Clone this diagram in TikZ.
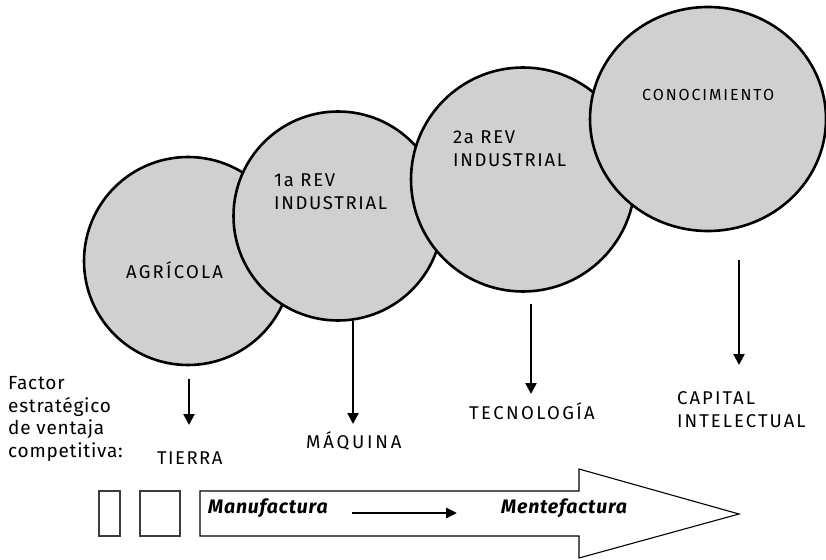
\documentclass[tikz,border=0pt]{standalone}
\usepackage{fontspec}
\setmainfont[LetterSpace=4,Ligatures=NoCommon]{Fira Sans}
\newfontfamily\capsfont[Ligatures=NoCommon]{Fira Sans}
\usetikzlibrary{arrows.meta,shapes.geometric}
\definecolor{circfill}{RGB}{208,208,208}
\definecolor{boxline}{RGB}{60,60,60}
\begin{document}
\begin{tikzpicture}[x=1pt,y=-1pt,
  era/.style={draw=black, line width=2.6pt, fill=circfill, inner sep=0pt},
  caps/.style={anchor=base west, inner sep=0pt, align=left,
    font=\capsfont\addfontfeature{LetterSpace=#1}\fontsize{18.5}{23}\selectfont},
  caps/.default=8,
  plain/.style={anchor=base west, inner sep=0pt, align=left,
    font=\fontsize{19}{22.5}\selectfont},
  work/.style={anchor=base west, inner sep=0pt,
    font=\bfseries\itshape\fontsize{19.5}{22}\selectfont},
  arr/.style={line width=2.3pt, -{Triangle[length=11pt,width=11pt]}},
  smallbox/.style={draw=boxline, line width=1.2pt, fill=white}
]
\useasboundingbox (0,0) rectangle (826,559);

% eras (drawn left to right, each over the previous)
\node[era, circle, minimum size=208pt] (c1) at (188,261) {};
\node[era, circle, minimum size=209pt] (c2) at (338,216) {};
\node[era, circle, minimum size=224pt] (c3) at (523,179.5) {};
\node[era, ellipse, minimum width=236pt, minimum height=224pt] (c4) at (708,119) {};

\node[caps=12] (t1) at (126,278) {AGRÍCOLA};
\node[caps=9] (t2) at (274,209) {1a REV\\INDUSTRIAL};
\node[caps=9] (t3) at (453,166) {2a REV\\INDUSTRIAL};
\node[caps, font=\capsfont\addfontfeature{LetterSpace=12}\fontsize{16}{20}\selectfont] (t4) at (642,101) {CONOCIMIENTO};

% factors
\node[plain] (lead) at (8,457) {Factor\\estratégico\\de ventaja\\competitiva:};
\node[caps=8] (f1) at (157,464) {TIERRA};
\node[caps=15] (f2) at (306,448) {MÁQUINA};
\node[caps=13] (f3) at (469,419) {TECNOLOGÍA};
\node[caps=11] (f4) at (677,427) {CAPITAL\\INTELECTUAL};

\coordinate (s1) at (189,379); \coordinate (e1) at (189,425);
\coordinate (s2) at (353,321); \coordinate (e2) at (353,424);
\coordinate (s3) at (531,304); \coordinate (e3) at (531,394);
\coordinate (s4) at (739,260); \coordinate (e4) at (739,365);
\draw[arr] (s1) -- (e1);
\draw[arr] (s2) -- (e2);
\draw[arr] (s3) -- (e3);
\draw[arr] (s4) -- (e4);

% bottom arrow
\node[smallbox, minimum width=21pt, minimum height=45pt, inner sep=0pt] (b1) at (109.5,513.5) {};
\node[smallbox, minimum width=40pt, minimum height=45pt, inner sep=0pt] (b2) at (160,513.5) {};
\draw[line width=1.1pt, fill=white] (200,491) -- (579,491) -- (579,469) -- (739,514)
  -- (579,558) -- (579,536) -- (200,536) -- cycle;
\node[work] (m1) at (208,513) {Manufactura};
\node[work] (m2) at (501,513) {Mentefactura};
\coordinate (ms) at (352,513);
\draw[arr, line width=2.6pt, -{Triangle[length=11pt,width=10pt]}] (ms) -- (457,513);
\end{tikzpicture}
\end{document}
